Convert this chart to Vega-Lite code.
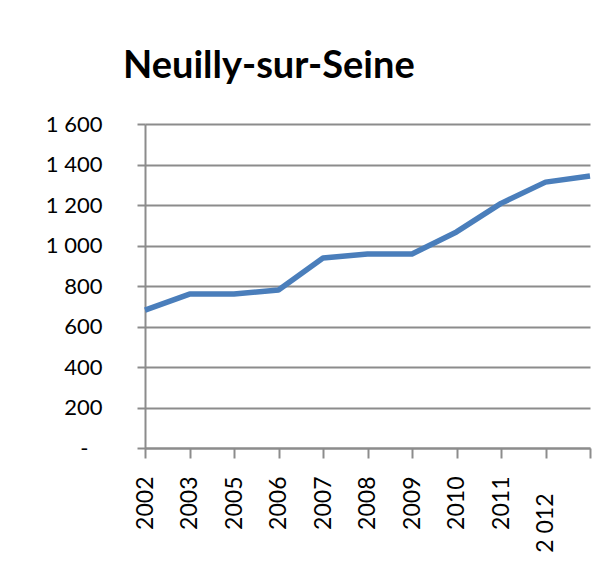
{
  "$schema": "https://vega.github.io/schema/vega-lite/v6.json",
  "width": 445,
  "height": 324,
  "autosize": {"type": "none"},
  "padding": {"left": 145, "top": 124, "right": 18, "bottom": 130},
  "background": "white",
  "title": {
    "text": "Neuilly-sur-Seine",
    "font": "Lato",
    "fontSize": 38,
    "fontWeight": "bold",
    "color": "black",
    "anchor": "start",
    "frame": "group",
    "dx": -22,
    "baseline": "alphabetic",
    "offset": -3
  },
  "data": {
    "values": [
      {"year": "2002", "value": 681},
      {"year": "2003", "value": 760},
      {"year": "2005", "value": 760},
      {"year": "2006", "value": 780},
      {"year": "2007", "value": 938},
      {"year": "2008", "value": 958},
      {"year": "2009", "value": 958},
      {"year": "2010", "value": 1067},
      {"year": "2011", "value": 1208},
      {"year": "2 012", "value": 1313},
      {"year": "", "value": 1343}
    ]
  },
  "mark": {"type": "line", "color": "#4a7ebb", "strokeWidth": 5.5, "strokeJoin": "round", "clip": false},
  "encoding": {
    "x": {
      "field": "year",
      "type": "ordinal",
      "sort": null,
      "scale": {"type": "point", "padding": 0},
      "axis": {
        "title": null,
        "labelAngle": -90,
        "labelAlign": "right",
        "labelBaseline": "middle",
        "labelFont": "Lato",
        "labelFontSize": 23,
        "labelColor": "black",
        "labelPadding": {"condition": {"test": "datum.value == '2 012'", "value": 35}, "value": 18},
        "tickSize": 10,
        "tickColor": "#8c8c8c",
        "tickWidth": 2,
        "domainColor": "#8c8c8c",
        "domainWidth": 2,
        "grid": false
      }
    },
    "y": {
      "field": "value",
      "type": "quantitative",
      "scale": {"domain": [0, 1600], "nice": false, "zero": true},
      "axis": {
        "title": null,
        "values": [0, 200, 400, 600, 800, 1000, 1200, 1400, 1600],
        "labelExpr": "datum.value == 0 ? '-' : replace(format(datum.value, ','), ',', ' ')",
        "labelFont": "Lato",
        "labelFontSize": 22,
        "labelColor": "black",
        "labelPadding": {"condition": {"test": "datum.value == 0", "value": 49}, "value": 35},
        "tickSize": 8,
        "tickColor": "#8c8c8c",
        "tickWidth": 2,
        "domainColor": "#8c8c8c",
        "domainWidth": 2,
        "grid": true,
        "gridColor": "#8c8c8c",
        "gridWidth": 2
      }
    }
  },
  "config": {"view": {"stroke": null}}
}
